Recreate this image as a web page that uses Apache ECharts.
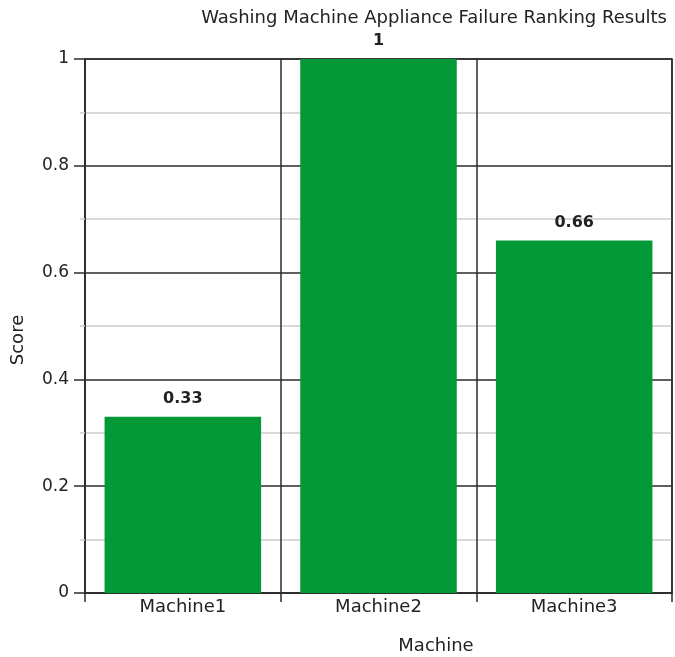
<!DOCTYPE html>
<html>
<head>
<meta charset="utf-8">
<script src="https://cdn.jsdelivr.net/npm/echarts@6/dist/echarts.min.js"></script>
<style>
  html, body { margin: 0; padding: 0; background: #fff; }
  #chart { width: 675px; height: 657px; }
</style>
</head>
<body>
<div id="chart"></div>
<script>
// Failure ranking score for each washing machine
const machines = ['Machine1', 'Machine2', 'Machine3'];
const scores = [0.33, 1, 0.66];

const FONT = '"DejaVu Sans", Verdana, sans-serif';
const DARK = '#2b2b2b';
const LIGHT = '#cdcdcd';
const TEXT = '#222';

const chart = echarts.init(document.getElementById('chart'), null, { renderer: 'canvas' });

chart.setOption({
  animation: false,
  textStyle: { fontFamily: FONT },
  title: {
    text: 'Washing Machine Appliance Failure Ranking Results',
    right: 3,
    top: 4,
    textStyle: { fontFamily: FONT, fontSize: 18, fontWeight: 'normal', color: TEXT }
  },
  grid: {
    left: 85, right: 3, top: 59, bottom: 64,
    containLabel: false,
    outerBoundsMode: 'none',
    show: true, borderColor: DARK, borderWidth: 1.5, backgroundColor: 'transparent'
  },
  xAxis: {
    type: 'category',
    data: machines,
    name: 'Machine',
    nameLocation: 'middle',
    nameGap: 44,
    nameTextStyle: { fontFamily: FONT, fontSize: 18, color: TEXT, padding: [0, 0, 0, 115] },
    axisLine: { show: true, lineStyle: { color: DARK, width: 1.5 } },
    axisTick: { show: true, alignWithLabel: false, length: 9, lineStyle: { color: DARK, width: 1.5 } },
    axisLabel: { fontFamily: FONT, fontSize: 18, color: TEXT, margin: 5 },
    splitLine: { show: true, lineStyle: { color: DARK, width: 1.5 } }
  },
  yAxis: {
    type: 'value',
    min: 0, max: 1, interval: 0.2,
    name: 'Score',
    nameLocation: 'middle',
    nameGap: 58,
    nameRotate: 90,
    nameTextStyle: { fontFamily: FONT, fontSize: 18, color: TEXT, padding: [0, 28, 0, 0] },
    axisLine: { show: true, lineStyle: { color: DARK, width: 1.5 } },
    axisTick: { show: true, length: 11, lineStyle: { color: DARK, width: 1.5 } },
    minorTick: { show: true, splitNumber: 2, length: 5, lineStyle: { color: LIGHT, width: 1.5 } },
    axisLabel: { fontFamily: FONT, fontSize: 17, color: TEXT, margin: 16 },
    splitLine: { show: true, lineStyle: { color: DARK, width: 1.5 } },
    minorSplitLine: { show: true, lineStyle: { color: LIGHT, width: 1.5 } }
  },
  series: [{
    type: 'bar',
    data: scores,
    barCategoryGap: '20%',
    itemStyle: { color: '#039936' },
    label: {
      show: true,
      position: 'top',
      distance: 10,
      fontFamily: FONT,
      fontSize: 16,
      fontWeight: 'bold',
      color: TEXT
    }
  }]
});
</script>
</body>
</html>
